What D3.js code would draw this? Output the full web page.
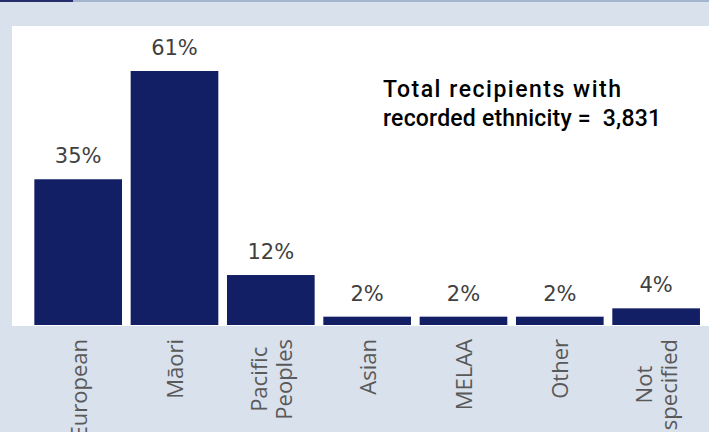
<!DOCTYPE html>
<html>
<head>
<meta charset="utf-8">
<script src="https://cdn.jsdelivr.net/npm/d3@7"></script>
<style>
  html, body { margin: 0; padding: 0; background: #d9e1ec; }
  svg { display: block; }
</style>
</head>
<body>
<div id="chart"></div>
<script>
// data
const categories = ["European", "Māori", "Pacific\nPeoples", "Asian", "MELAA", "Other", "Not\nspecified"];
const percents = [35, 61, 12, 2, 2, 2, 4];
const totalLines = ["Total recipients with", "recorded ethnicity =  3,831"];
const totalWidths = [238, 278];

const W = 709, H = 432;
const baseY = 325;

const svg = d3.select("#chart").append("svg")
  .attr("width", W)
  .attr("height", H);

// background + top strip
svg.append("rect").attr("width", W).attr("height", H).attr("fill", "#d9e1ec");
svg.append("rect").attr("x", 0).attr("y", 0).attr("width", W).attr("height", 2).attr("fill", "#a3b6ce");
svg.append("rect").attr("x", 0).attr("y", 0).attr("width", 73).attr("height", 2).attr("fill", "#262c6c");

// white plot panel
svg.append("rect")
  .attr("x", 12).attr("y", 26)
  .attr("width", W - 12).attr("height", 300)
  .attr("fill", "#ffffff");

const x = d3.scaleBand()
  .domain(categories)
  .range([30, 704.3])
  .paddingInner(0.09)
  .paddingOuter(0.045);

const y = d3.scaleLinear()
  .domain([0, 70])
  .range([baseY, baseY - 70 * 4.164]);

// bars
svg.selectAll("rect.bar")
  .data(percents)
  .enter()
  .append("rect")
  .attr("class", "bar")
  .attr("x", (d, i) => x(categories[i]))
  .attr("y", d => y(d))
  .attr("width", x.bandwidth())
  .attr("height", d => y(0) - y(d))
  .attr("fill", "#121f64");

// value labels
svg.selectAll("text.val")
  .data(percents)
  .enter()
  .append("text")
  .attr("class", "val")
  .attr("x", (d, i) => x(categories[i]) + x.bandwidth() / 2)
  .attr("y", d => y(d) - 16)
  .attr("text-anchor", "middle")
  .attr("font-family", "DejaVu Sans")
  .attr("font-size", 21)
  .attr("fill", "#404040")
  .text(d => d + "%");

// category labels, rotated, multi-line ones centred on the longest line
const labelTop = 339;
const lineGap = 25;
categories.forEach(function (c) {
  let lines = c.split("\n");
  let cx = x(c) + x.bandwidth() / 2;
  let g = svg.append("g");
  let texts = lines.map(function (ln) {
    return g.append("text")
      .attr("font-family", "Open Sans")
      .attr("font-size", 22)
      .attr("fill", "#595959")
      .text(ln);
  });
  let maxLen = d3.max(texts, t => t.node().getComputedTextLength());
  let mid = labelTop + maxLen / 2;
  texts.forEach(function (t, i) {
    let bx = cx + 8.5 + (i - (lines.length - 1) / 2) * lineGap;
    t.attr("text-anchor", "middle")
      .attr("transform", "translate(" + bx + "," + mid + ") rotate(-90)");
  });
});

// total annotation
svg.append("g").selectAll("text")
  .data(totalLines)
  .enter()
  .append("text")
  .attr("x", 383)
  .attr("y", (d, i) => 97 + i * 29)
  .attr("font-family", "Roboto")
  .attr("font-weight", 500)
  .attr("font-size", 23)
  .attr("fill", "#000000")
  .attr("textLength", (d, i) => totalWidths[i])
  .attr("lengthAdjust", "spacing")
  .style("white-space", "pre")
  .text(d => d);
</script>
</body>
</html>
